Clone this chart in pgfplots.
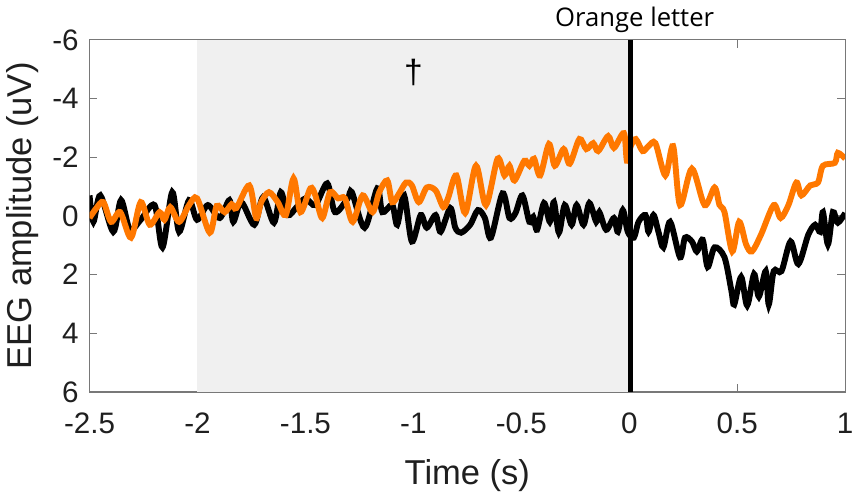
\documentclass[border=0pt]{standalone}
\usepackage{pgfplots}
\pgfplotsset{compat=1.18}
\usepackage{fontspec}
\setmainfont{Liberation Sans}
\newfontfamily\annfont{Open Sans}
\definecolor{eegorange}{RGB}{255,120,0}
\definecolor{shade}{RGB}{240,240,240}
\definecolor{axgray}{RGB}{120,120,120}
\begin{document}
\begin{tikzpicture}
\begin{axis}[
  scale only axis, width=383pt, height=178.5pt,
  xmin=-2.5, xmax=1, ymin=-6, ymax=6, y dir=reverse,
  xtick={-2.5,-2,-1.5,-1,-0.5,0,0.5,1},
  xticklabels={-2.5,-2,-1.5,-1,-0.5,0,0.5,1},
  ytick={-6,-4,-2,0,2,4,6},
  yticklabels={-6,-4,-2,0,2,4,6},
  tick align=inside, major tick length=4pt,
  axis line style={axgray, line width=0.6pt},
  tick style={axgray, line width=0.6pt},
  ticklabel style={font=\fontsize{15}{15}\selectfont, text=black!88},
  xticklabel style={yshift=-7pt},
  yticklabel style={xshift=-2pt},
  /pgf/number format/assume math mode=true,
  xlabel={Time (s)}, ylabel={EEG amplitude (uV)},
  label style={font=\fontsize{17.5}{17.5}\selectfont, text=black!88},
  xlabel style={yshift=-6pt},
  clip mode=individual,
]
\addplot[fill=shade, draw=none] coordinates {(-2,-6) (0,-6) (0,6) (-2,6)} -- cycle;

% black series
\addplot[black, line width=3pt, smooth, tension=0.5] coordinates {
(-2.500,-0.70) (-2.482,0.20) (-2.450,-0.70) (-2.390,0.54) (-2.354,-0.54)
(-2.313,0.47) (-2.263,0.13) (-2.199,-0.37) (-2.162,1.07) (-2.117,-0.81)
(-2.085,0.54) (-2.039,-0.54) (-2.002,0.13) (-1.952,-0.37) (-1.897,0.07)
(-1.852,-0.54) (-1.834,0.20) (-1.797,-0.47) (-1.737,0.30) (-1.696,-0.64)
(-1.646,0.23) (-1.614,-0.81) (-1.582,-0.03) (-1.541,-0.30) (-1.500,-0.60)
(-1.454,-0.37) (-1.399,-1.11) (-1.363,-0.13) (-1.304,-0.60) (-1.285,-0.81)
(-1.226,0.40) (-1.167,-0.94) (-1.144,-0.13) (-1.098,-0.37) (-1.075,0.30)
(-1.043,-0.70) (-1.007,0.87) (-0.966,-0.03) (-0.938,0.40) (-0.897,-0.03)
(-0.874,0.54) (-0.829,-0.27) (-0.806,0.40) (-0.779,0.57) (-0.737,0.30)
(-0.701,-0.20) (-0.669,0.07) (-0.641,0.74) (-0.587,-0.77) (-0.555,0.07)
(-0.527,-0.10) (-0.495,-0.70) (-0.463,0.20) (-0.445,0.03) (-0.427,0.47)
(-0.395,-0.44) (-0.368,0.20) (-0.349,-0.47) (-0.326,0.57) (-0.299,-0.37)
(-0.267,0.30) (-0.244,-0.37) (-0.212,0.30) (-0.185,-0.44) (-0.153,0.20)
(-0.139,-0.13) (-0.107,0.47) (-0.071,0.07) (-0.053,0.54) (-0.030,-0.20)
(-0.007,0.54) (0.021,0.74) (0.043,0.20) (0.075,-0.03) (0.089,0.54)
(0.112,-0.03) (0.135,0.54) (0.158,1.07) (0.189,0.20) (0.235,1.41)
(0.258,0.74) (0.290,0.87) (0.313,1.21) (0.340,0.81) (0.363,1.74)
(0.395,1.07) (0.441,1.41) (0.473,2.55) (0.486,3.02) (0.518,2.08)
(0.546,3.05) (0.578,1.98) (0.600,2.75) (0.632,1.88) (0.646,3.02)
(0.669,1.88) (0.705,1.88) (0.747,0.87) (0.783,1.64) (0.829,0.64)
(0.861,0.30) (0.884,0.54) (0.897,-0.13) (0.920,0.97) (0.943,-0.13)
(0.966,0.23) (1.000,-0.10)
};

% orange series
\addplot[eegorange, line width=3pt, smooth, tension=0.5] coordinates {
(-2.500,0.07) (-2.468,-0.27) (-2.436,-0.47) (-2.400,0.20) (-2.358,-0.13)
(-2.308,0.74) (-2.263,-0.47) (-2.221,0.30) (-2.176,-0.13) (-2.153,0.13)
(-2.126,-0.30) (-2.085,0.20) (-2.039,-0.37) (-2.002,-0.60) (-1.943,0.57)
(-1.911,-0.34) (-1.874,-0.13) (-1.842,-0.40) (-1.820,-0.27) (-1.760,-1.04)
(-1.728,0.07) (-1.705,-0.47) (-1.669,-0.81) (-1.628,-0.47) (-1.591,-0.03)
(-1.555,-1.28) (-1.523,-0.13) (-1.477,-0.94) (-1.454,-0.70) (-1.422,0.07)
(-1.386,-0.81) (-1.349,-0.60) (-1.317,-0.60) (-1.281,0.20) (-1.235,-0.70)
(-1.189,-0.13) (-1.158,-0.81) (-1.121,-1.21) (-1.098,-0.47) (-1.066,-0.77)
(-1.034,-1.14) (-1.007,-1.04) (-0.975,-0.47) (-0.938,-0.97) (-0.897,-0.87)
(-0.861,-0.30) (-0.838,-0.64) (-0.801,-1.38) (-0.760,-0.10) (-0.710,-1.71)
(-0.664,-0.37) (-0.610,-1.95) (-0.578,-1.38) (-0.555,-1.71) (-0.532,-1.21)
(-0.486,-1.88) (-0.463,-1.71) (-0.441,-1.95) (-0.413,-1.38) (-0.372,-2.45)
(-0.345,-1.71) (-0.304,-2.28) (-0.276,-1.78) (-0.231,-2.62) (-0.199,-2.28)
(-0.167,-2.48) (-0.144,-2.21) (-0.098,-2.72) (-0.071,-2.32) (-0.025,-2.82)
(-0.011,-1.88) (0.007,-2.38) (0.030,-2.62) (0.062,-2.21) (0.089,-2.38)
(0.121,-2.48) (0.167,-1.38) (0.203,-2.38) (0.235,-0.37) (0.290,-1.61)
(0.349,-0.37) (0.395,-0.97) (0.418,-0.37) (0.441,-0.13) (0.477,1.21)
(0.509,0.20) (0.541,0.97) (0.568,1.21) (0.610,0.64) (0.669,-0.37)
(0.701,0.07) (0.737,-0.37) (0.774,-1.14) (0.797,-0.70) (0.838,-1.04)
(0.874,-1.14) (0.897,-1.71) (0.952,-1.81) (0.966,-2.15) (1.000,-1.95)
};

% event line
\addplot[black, line width=2.8pt] coordinates {(0.005,-6) (0.005,6)};

\node at (axis cs:-1,-4.9) {\fontsize{17}{17}\selectfont †};
\node[anchor=base, yshift=7pt] at (axis cs:0.025,-6) {\annfont\fontsize{13}{13}\selectfont Orange letter};
\end{axis}
\end{tikzpicture}
\end{document}
